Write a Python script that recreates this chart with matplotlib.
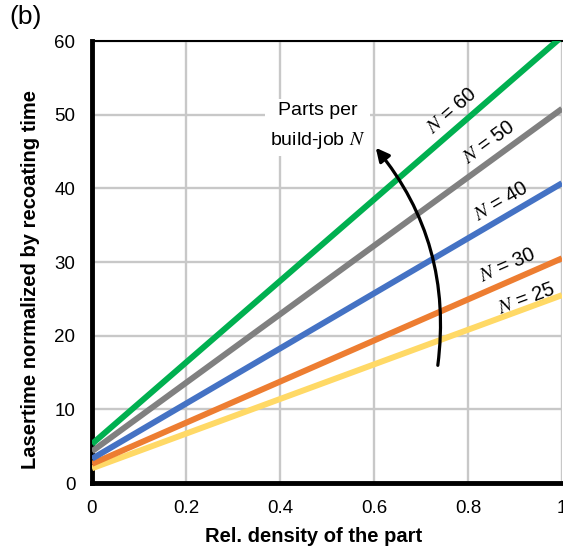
import numpy as np
import matplotlib
matplotlib.use('Agg')
import matplotlib.pyplot as plt
from matplotlib.patches import FancyArrowPatch

plt.rcParams['font.family'] = ['Liberation Sans', 'DejaVu Sans']
plt.rcParams['mathtext.fontset'] = 'stix'

# parts per build job, and line values at rel. density 0 and 1
N_VALUES = [25, 30, 40, 50, 60]
Y_AT_0 = [2.0, 2.6, 3.3, 4.3, 5.3]
Y_AT_1 = [25.5, 30.5, 40.7, 50.8, 60.6]
COLORS = ['#ffd966', '#ed7d31', '#4472c4', '#808080', '#00b050']
# label anchor points (x, y) in data coords
LABEL_POS = [(0.925, 25.0), (0.885, 29.6), (0.87, 38.3), (0.845, 46.2), (0.765, 50.6)]

XTICKS = [0, 0.2, 0.4, 0.6, 0.8, 1]
XTICKLABELS = ['0', '0.2', '0.4', '0.6', '0.8', '1']
YTICKS = [0, 10, 20, 30, 40, 50, 60]

fig = plt.figure(figsize=(5.63, 5.49), dpi=100)
ax = fig.add_axes([0.1634, 0.1202, 0.8348, 0.8051])

x = np.array([0.0, 1.0])
for n, y0, y1, c, (lx, ly) in zip(N_VALUES, Y_AT_0, Y_AT_1, COLORS, LABEL_POS):
    ax.plot(x, [y0, y1], color=c, lw=4.3, solid_capstyle='butt', zorder=3)
    ang = np.degrees(np.arctan2(y1 - y0, 1.0))
    ax.text(lx, ly, f'$N$ = {n}', rotation=ang, transform_rotates_text=True,
            rotation_mode='anchor', ha='center', va='center', fontsize=14.5, zorder=5)

ax.set_xlim(0, 1)
ax.set_ylim(0, 60)
ax.set_xticks(XTICKS)
ax.set_xticklabels(XTICKLABELS)
ax.set_yticks(YTICKS)
ax.tick_params(length=0, labelsize=13.5, pad=12)
ax.grid(True, color='#c8c8c8', lw=1.7, zorder=0)
ax.set_axisbelow(True)

ax.spines['left'].set_linewidth(3.5)
ax.spines['bottom'].set_linewidth(3.5)
ax.spines['top'].set_linewidth(1.5)
ax.spines['right'].set_visible(False)

ax.set_xlabel('Rel. density of the part', fontsize=14.5, fontweight='bold')
ax.set_ylabel('Lasertime normalized by recoating time', fontsize=14.5, fontweight='bold')
ax.xaxis.set_label_coords(0.472, -0.1)
ax.yaxis.set_label_coords(-0.11, 0.46)

arrow = FancyArrowPatch((0.735, 15.6), (0.6, 45.8), connectionstyle='arc3,rad=0.22',
                        arrowstyle='-|>', mutation_scale=20, lw=2.3, color='black', zorder=6)
ax.add_patch(arrow)
ax.text(0.48, 48.4, 'Parts per\nbuild-job $N$', ha='center', va='center', fontsize=14,
        linespacing=1.75, zorder=7,
        bbox=dict(boxstyle='square,pad=0.25', fc='white', ec='none'))

fig.text(0.016, 0.99, '(b)', fontsize=19, va='top', ha='left')

fig.savefig('out.png', dpi=100)
